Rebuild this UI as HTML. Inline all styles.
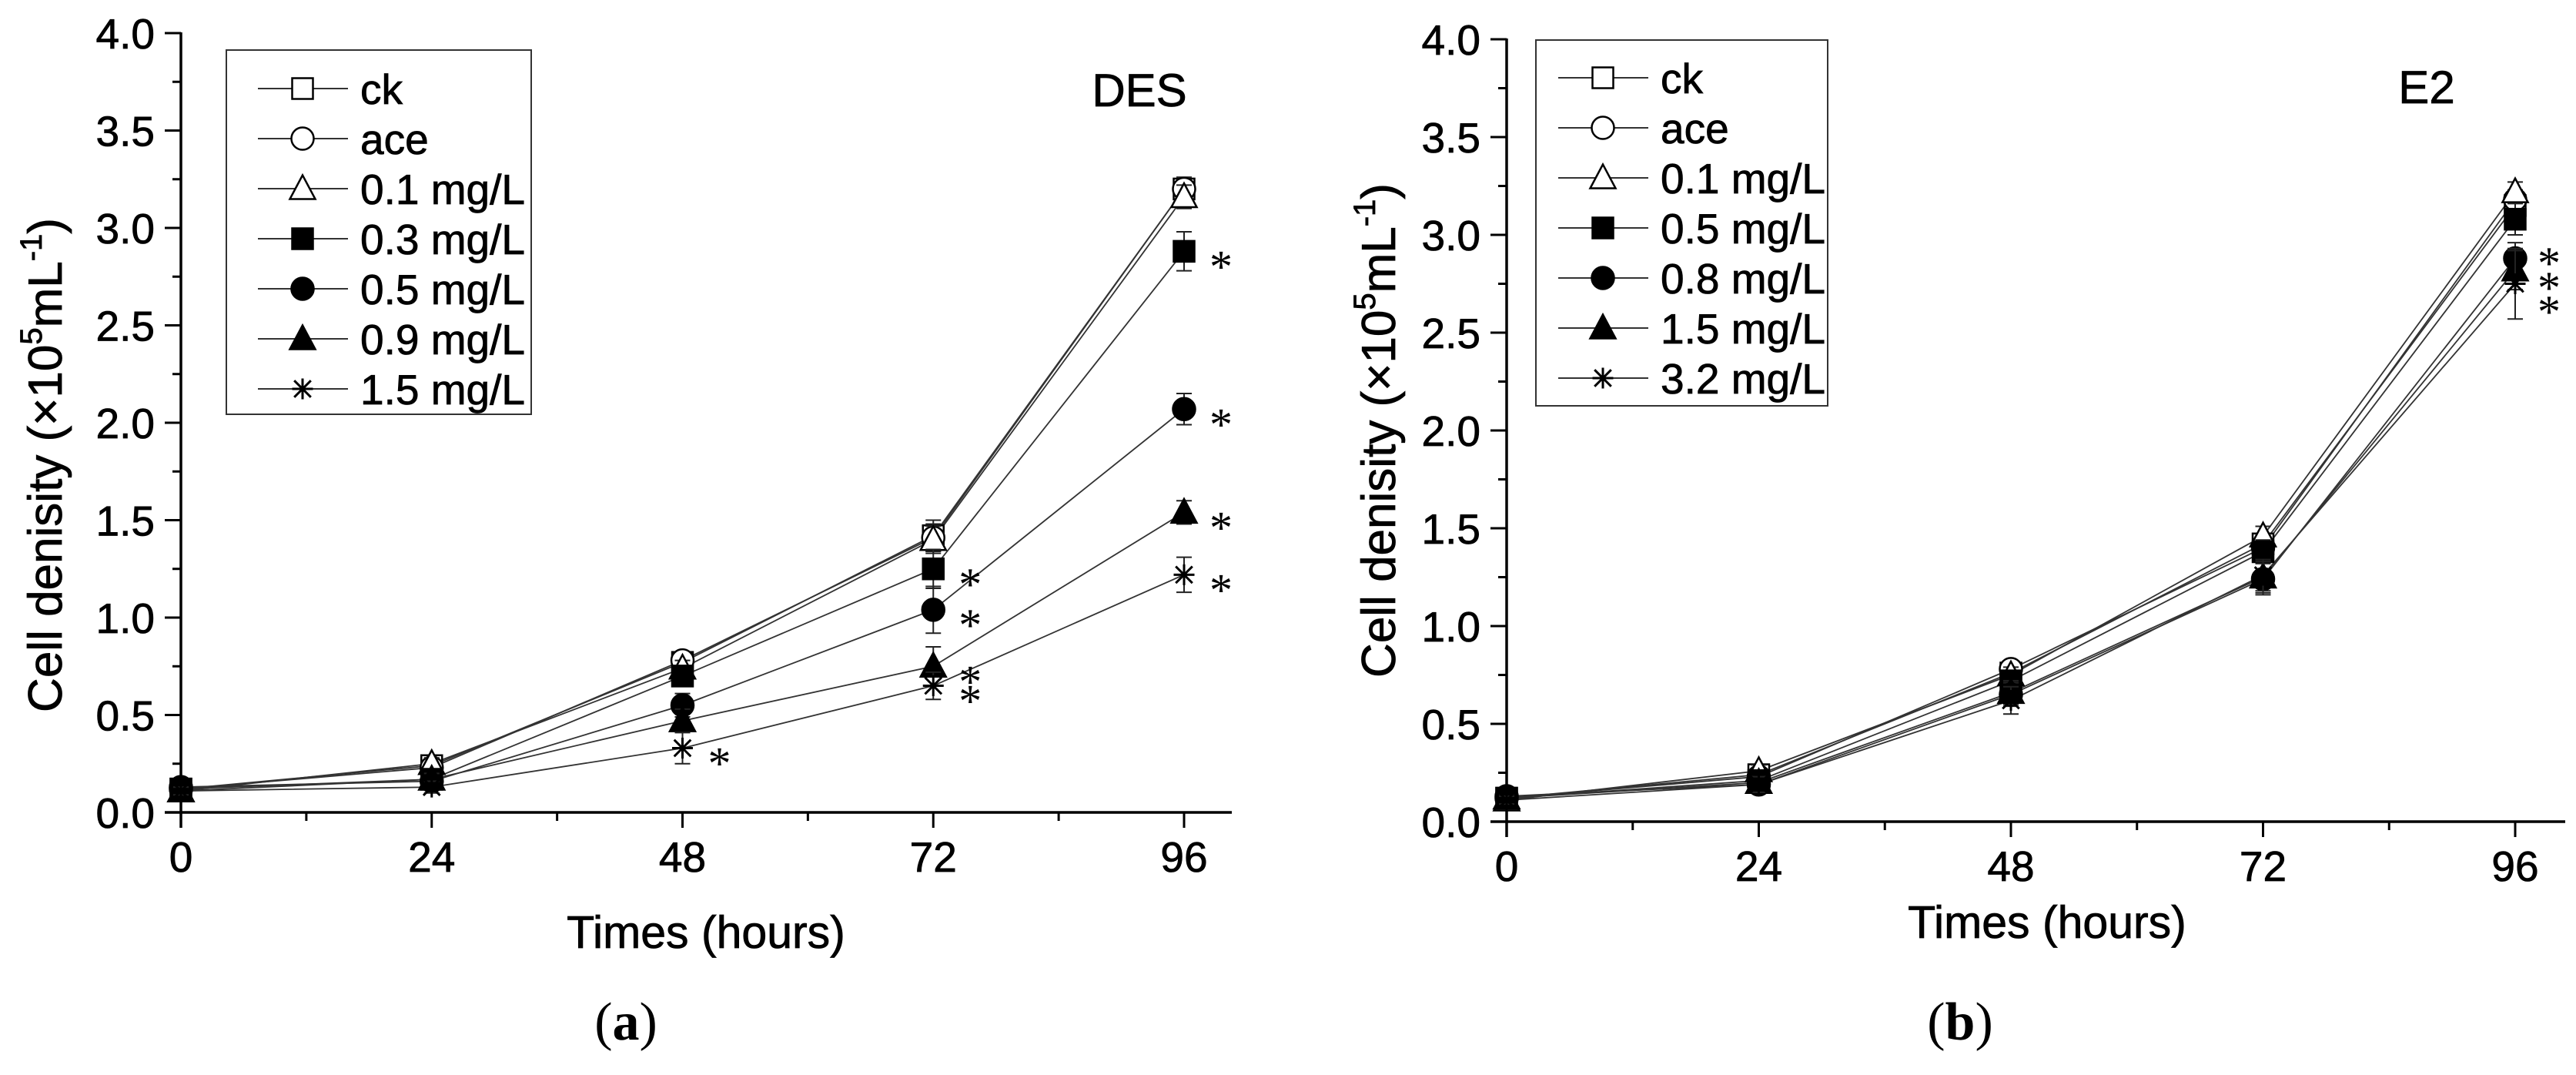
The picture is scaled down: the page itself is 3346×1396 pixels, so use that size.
<!DOCTYPE html>
<html>
<head>
<meta charset="utf-8">
<style>
html,body{margin:0;padding:0;background:#fff;}
svg{display:block;}
</style>
</head>
<body>
<svg id="fig" width="3346" height="1396" viewBox="0 0 3346 1396" xmlns="http://www.w3.org/2000/svg">
<rect x="0" y="0" width="3346" height="1396" fill="#fff"/>
</svg>
<script>
// ---------- data ----------
const hours = [0, 24, 48, 72, 96];
const xTicks = ["0", "24", "48", "72", "96"];
const yTicks = ["0.0", "0.5", "1.0", "1.5", "2.0", "2.5", "3.0", "3.5", "4.0"];

const desLabels = ["ck", "ace", "0.1 mg/L", "0.3 mg/L", "0.5 mg/L", "0.9 mg/L", "1.5 mg/L"];
const desCk  = [0.12, 0.24, 0.77, 1.42, 3.20];
const desAce = [0.12, 0.23, 0.78, 1.41, 3.20];
const des01  = [0.11, 0.25, 0.74, 1.40, 3.16];
const des03  = [0.12, 0.17, 0.70, 1.25, 2.88];
const des05  = [0.13, 0.16, 0.55, 1.04, 2.07];
const des09  = [0.11, 0.17, 0.47, 0.75, 1.54];
const des15  = [0.11, 0.13, 0.33, 0.65, 1.22];
const desErrCk  = [0.02, 0.03, 0.04, 0.08, 0.06];
const desErrAce = [0.02, 0.03, 0.04, 0.07, 0.06];
const desErr01  = [0.02, 0.03, 0.04, 0.07, 0.06];
const desErr03  = [0.02, 0.03, 0.05, 0.10, 0.10];
const desErr05  = [0.02, 0.03, 0.06, 0.12, 0.08];
const desErr09  = [0.02, 0.03, 0.06, 0.10, 0.06];
const desErr15  = [0.02, 0.03, 0.08, 0.07, 0.09];
const desStarSeries = [3, 4, 5, 6, 3, 4, 5, 6, 6];
const desStarHour   = [96, 96, 96, 96, 72, 72, 72, 72, 48];

const e2Labels = ["ck", "ace", "0.1 mg/L", "0.5 mg/L", "0.8 mg/L", "1.5 mg/L", "3.2 mg/L"];
const e2Ck  = [0.12, 0.24, 0.76, 1.42, 3.15];
const e2Ace = [0.12, 0.23, 0.78, 1.40, 3.18];
const e201  = [0.11, 0.26, 0.75, 1.46, 3.22];
const e205  = [0.12, 0.21, 0.72, 1.38, 3.08];
const e208  = [0.13, 0.19, 0.65, 1.24, 2.88];
const e215  = [0.12, 0.20, 0.66, 1.25, 2.82];
const e232  = [0.11, 0.19, 0.62, 1.26, 2.75];
const e2ErrCk  = [0.02, 0.03, 0.04, 0.05, 0.05];
const e2ErrAce = [0.02, 0.03, 0.04, 0.05, 0.05];
const e2Err01  = [0.02, 0.03, 0.04, 0.05, 0.05];
const e2Err05  = [0.02, 0.03, 0.05, 0.06, 0.08];
const e2Err08  = [0.02, 0.03, 0.06, 0.08, 0.08];
const e2Err15  = [0.02, 0.03, 0.06, 0.08, 0.10];
const e2Err32  = [0.02, 0.04, 0.07, 0.08, 0.18];
const e2StarSeries = [4, 5, 6];
const e2StarHour   = [96, 96, 96];

const markers = ["square-open", "circle-open", "triangle-open", "square", "circle", "triangle", "star"];

// ---------- drawing ----------
const NS = "http://www.w3.org/2000/svg";
const svg = document.getElementById("fig");
function mk(tag, attrs, parent) {
  const e = document.createElementNS(NS, tag);
  for (const k in attrs) e.setAttribute(k, attrs[k]);
  (parent || svg).appendChild(e);
  return e;
}
const SANS = '"Liberation Sans", Arial, sans-serif';
const SERIF = '"Liberation Serif", "Times New Roman", serif';

function drawMarker(g, type, cx, cy, s) {
  const h = s / 2;
  let e;
  if (type.startsWith("square")) {
    e = mk("rect", {x: cx - h, y: cy - h, width: s, height: s}, g);
  } else if (type.startsWith("circle")) {
    e = mk("circle", {cx: cx, cy: cy, r: h + 1}, g);
  } else if (type.startsWith("triangle")) {
    e = mk("polygon", {points: `${cx},${cy - h - 4} ${cx - h - 3},${cy + h} ${cx + h + 3},${cy + h}`}, g);
  } else {
    e = mk("path", {d: `M${cx - h},${cy} H${cx + h} M${cx},${cy - h} V${cy + h} M${cx - h * 0.8},${cy - h * 0.8} L${cx + h * 0.8},${cy + h * 0.8} M${cx - h * 0.8},${cy + h * 0.8} L${cx + h * 0.8},${cy - h * 0.8}`, fill: "none", stroke: "#000", "stroke-width": 3}, g);
    return e;
  }
  const open = type.endsWith("open");
  e.setAttribute("fill", open ? "#fff" : "#000");
  e.setAttribute("stroke", "#000");
  e.setAttribute("stroke-width", 2.5);
  return e;
}

function drawPanel(p) {
  const g = mk("g", {});
  
  
  const X = v => p.x0 + (v / 96) * (p.x96 - p.x0);
  const Y = v => p.y0 - v * p.unit;

  const ax = mk("g", {}, g);
  
  
  mk("line", {x1: p.x0, y1: Y(4) - 1, x2: p.x0, y2: p.y0 + 20, stroke: "#000", "stroke-width": 3.5}, ax);
  mk("line", {x1: p.x0 - 21, y1: p.y0, x2: p.xEnd, y2: p.y0, stroke: "#000", "stroke-width": 3.5}, ax);
  for (let i = 0; i < yTicks.length; i++) {
    const v = i * 0.5, y = Y(v);
    mk("line", {x1: p.x0 - 21, y1: y, x2: p.x0, y2: y, stroke: "#000", "stroke-width": 3}, ax);
    if (i < yTicks.length - 1) {
      const ym = Y(v + 0.25);
      mk("line", {x1: p.x0 - 11, y1: ym, x2: p.x0, y2: ym, stroke: "#000", "stroke-width": 3}, ax);
    }
    const t = mk("text", {x: p.x0 - 34, y: y + 20, "text-anchor": "end", "font-family": SANS, "font-size": 55, stroke: "#000", "stroke-width": 0.8}, ax);
    t.textContent = yTicks[i];
    
    
  }
  for (let i = 0; i < hours.length; i++) {
    const x = X(hours[i]);
    mk("line", {x1: x, y1: p.y0, x2: x, y2: p.y0 + 20, stroke: "#000", "stroke-width": 3}, ax);
    if (i < hours.length - 1) {
      const xm = X(hours[i] + 12);
      mk("line", {x1: xm, y1: p.y0, x2: xm, y2: p.y0 + 11, stroke: "#000", "stroke-width": 3}, ax);
    }
    const t = mk("text", {x: x, y: p.y0 + 77, "text-anchor": "middle", "font-family": SANS, "font-size": 55, stroke: "#000", "stroke-width": 0.8}, ax);
    t.textContent = xTicks[i];
    
    
  }
  const xt = mk("text", {x: p.xTitleX, y: p.xTitleY, "text-anchor": "middle", "font-family": SANS, "font-size": 59, stroke: "#000", "stroke-width": 0.8}, g);
  xt.textContent = "Times (hours)";
  
  
  const yt = mk("text", {x: 0, y: 0, "text-anchor": "middle", "font-family": SANS, "font-size": 62, stroke: "#000", "stroke-width": 0.8, transform: `translate(${p.yTitleX},${p.yTitleY}) rotate(-90)`}, g);
  yt.innerHTML = 'Cell denisity (×10<tspan dy="-26" font-size="40">5</tspan><tspan dy="26">mL</tspan><tspan dy="-26" font-size="40">-1</tspan><tspan dy="26">)</tspan>';
  
  

  p.series.forEach((s, si) => {
    const d = s.map((v, i) => `${i ? "L" : "M"}${X(hours[i])},${Y(v)}`).join(" ");
    const ln = mk("path", {d: d, fill: "none", stroke: "#333", "stroke-width": 1.8}, g);
    
    
  });
  p.series.forEach((s, si) => {
    const sg = mk("g", {}, g);
    
    
    s.forEach((v, i) => {
      const x = X(hours[i]), e = p.errs[si][i];
      mk("path", {d: `M${x},${Y(v + e)} V${Y(v - e)} M${x - 10},${Y(v + e)} H${x + 10} M${x - 10},${Y(v - e)} H${x + 10}`, stroke: "#222", "stroke-width": 2, fill: "none"}, sg);
      drawMarker(sg, markers[si], x, Y(v), 27);
    });
  });
  p.starSeries.forEach((si, k) => {
    const hi = hours.indexOf(p.starHour[k]);
    const v = p.series[si][hi];
    const t = mk("text", {x: X(p.starHour[k]) + p.starDx, y: (p.starY ? p.starY[k] : Y(v) + 10) + 30, "text-anchor": "middle", "font-family": SERIF, "font-size": 60}, g);
    t.textContent = "*";
    
    
  });

  const lg = mk("g", {}, g);
  
  
  mk("rect", {x: p.lgX, y: p.lgY, width: p.lgW, height: p.lgH, fill: "#fff", stroke: "#333", "stroke-width": 2}, lg);
  p.labels.forEach((lab, i) => {
    const y = p.lgRow0 + i * 65;
    const en = mk("g", {}, lg);
    
    
    mk("line", {x1: p.lgLine0, y1: y, x2: p.lgLine0 + 117, y2: y, stroke: "#333", "stroke-width": 2}, en);
    drawMarker(en, markers[i], p.lgLine0 + 58, y, 27);
    const t = mk("text", {x: p.lgLine0 + 133, y: y + 20, "font-family": SANS, "font-size": 55, stroke: "#000", "stroke-width": 0.8}, en);
    t.textContent = lab;
  });
  const pl = mk("text", {x: p.nameX, y: p.nameY, "text-anchor": "middle", "font-family": SANS, "font-size": 60, stroke: "#000", "stroke-width": 0.8}, g);
  pl.textContent = p.title;
  
  
  const cap = mk("text", {x: p.capX, y: 1350, "text-anchor": "middle", "font-family": SERIF, "font-size": 70}, g);
  cap.innerHTML = '(<tspan font-weight="bold">' + p.cap + '</tspan>)';
  
  
}

drawPanel({
  name: "chart-des", title: "DES", cap: "a",
  x0: 235, x96: 1538, xEnd: 1600, y0: 1055, unit: 253,
  series: [desCk, desAce, des01, des03, des05, des09, des15],
  errs: [desErrCk, desErrAce, desErr01, desErr03, desErr05, desErr09, desErr15],
  labels: desLabels, starSeries: desStarSeries, starHour: desStarHour, starDx: 48,
  lgX: 294, lgY: 65, lgW: 396, lgH: 473, lgRow0: 115, lgLine0: 335,
  nameX: 1480, nameY: 138, capX: 813,
  xTitleX: 917, xTitleY: 1231, yTitleX: 80, yTitleY: 604
});
drawPanel({
  name: "chart-e2", title: "E2", cap: "b",
  x0: 1957, x96: 3267, xEnd: 3332, y0: 1067, unit: 254,
  series: [e2Ck, e2Ace, e201, e205, e208, e215, e232],
  errs: [e2ErrCk, e2ErrAce, e2Err01, e2Err05, e2Err08, e2Err15, e2Err32],
  labels: e2Labels, starSeries: e2StarSeries, starHour: e2StarHour, starDx: 44,
  starY: [332, 364, 395],
  lgX: 1995, lgY: 52, lgW: 379, lgH: 475, lgRow0: 101, lgLine0: 2024,
  nameX: 3152, nameY: 134, capX: 2546,
  xTitleX: 2659, xTitleY: 1218, yTitleX: 1812, yTitleY: 559
});
</script>
</body>
</html>
